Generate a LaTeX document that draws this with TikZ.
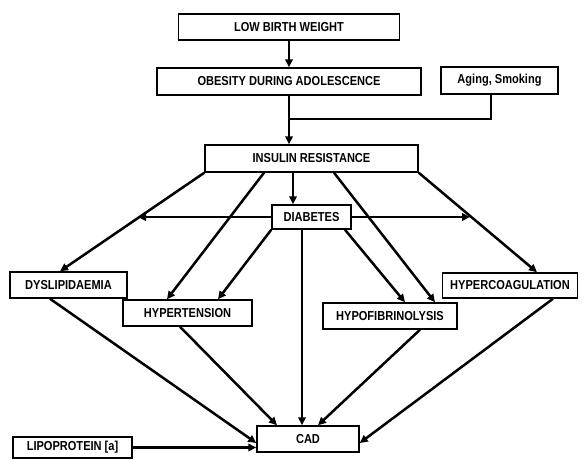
\documentclass[tikz,border=0pt]{standalone}
\usepackage{fontspec}
\newfontfamily\lab[FakeStretch=0.85]{Liberation Sans}
\usetikzlibrary{arrows.meta,calc}
\begin{document}
\begin{tikzpicture}[x=1pt,y=-1pt,
  box/.style={draw=black,line width=1.5pt,fill=white,inner sep=0pt,
    font=\lab\bfseries\fontsize{13}{15}\selectfont},
  conn/.style={line width=2.5pt,line cap=butt},
  arr/.style={conn,-{Triangle[length=8pt,width=7.5pt]}}]
\useasboundingbox (0,0) rectangle (582,459);
% boxes
\node[box,minimum width=221pt,minimum height=26pt] (lbw) at (289,27) {LOW BIRTH WEIGHT};
\node[box,minimum width=264pt,minimum height=27pt] (obe) at (289,81.5) {OBESITY DURING ADOLESCENCE};
\node[box,minimum width=117pt,minimum height=27pt] (age) at (499.5,80.5) {Aging, Smoking};
\node[box,minimum width=213pt,minimum height=27pt] (ins) at (311.5,158.5) {INSULIN RESISTANCE};
\node[box,minimum width=79pt,minimum height=24pt] (dia) at (311.5,217) {DIABETES};
\node[box,minimum width=117pt,minimum height=26pt] (dys) at (68.5,285) {DYSLIPIDAEMIA};
\node[box,minimum width=129pt,minimum height=26pt] (hyt) at (187.5,313) {HYPERTENSION};
\node[box,minimum width=134pt,minimum height=26pt] (hyf) at (390,316) {HYPOFIBRINOLYSIS};
\node[box,minimum width=135pt,minimum height=25pt] (hyc) at (510,285.5) {HYPERCOAGULATION};
\node[box,minimum width=119pt,minimum height=21pt] (lip) at (72.5,447.5) {LIPOPROTEIN [a]};
\node[box,minimum width=102pt,minimum height=26pt] (cad) at (308,439) {CAD};
\coordinate (j) at (289,119);
\coordinate (dl) at (138,217);
\coordinate (dr) at (470,217);
% top chain
\draw[arr] (lbw.south) -- (obe.north);
\draw[arr] (obe.south) -- (obe.south |- ins.north);
\draw[conn] ([xshift=-8.5pt]age.south) |- (j);
% from insulin resistance
\draw[arr] (ins.south west) -- ([xshift=-8.5pt]dys.north);
\draw[arr] ([xshift=-47.5pt]ins.south) -- ([xshift=-20.5pt]hyt.north);
\draw[arr] ([xshift=-18.5pt]ins.south) -- ([xshift=-18.5pt]dia.north);
\draw[arr] ([xshift=22.5pt]ins.south) -- ([xshift=45pt]hyf.north);
\draw[arr] (ins.south east) -- ([xshift=27pt]hyc.north);
% from diabetes
\draw[arr] (dia.west) -- (dl);
\draw[arr] (dia.east) -- (dr);
\draw[arr] (dia.south west) -- ([xshift=30.5pt]hyt.north);
\draw[arr] ([xshift=-9.5pt]dia.south) -- ([xshift=-6pt]cad.north);
\draw[arr] ([xshift=33.5pt]dia.south) -- ([xshift=15pt]hyf.north);
% to CAD
\draw[arr] ([xshift=-18.5pt]dys.south) -- ([yshift=-4pt]cad.west);
\draw[arr] ([xshift=-7.5pt]hyt.south) -- ([xshift=-31pt]cad.north);
\draw[arr] ([xshift=30pt]hyf.south) -- ([xshift=10pt]cad.north);
\draw[arr] ([xshift=43pt]hyc.south) -- ([yshift=-4pt]cad.east);
\draw[arr] (lip.east) -- (lip.east -| cad.west);
\end{tikzpicture}
\end{document}
